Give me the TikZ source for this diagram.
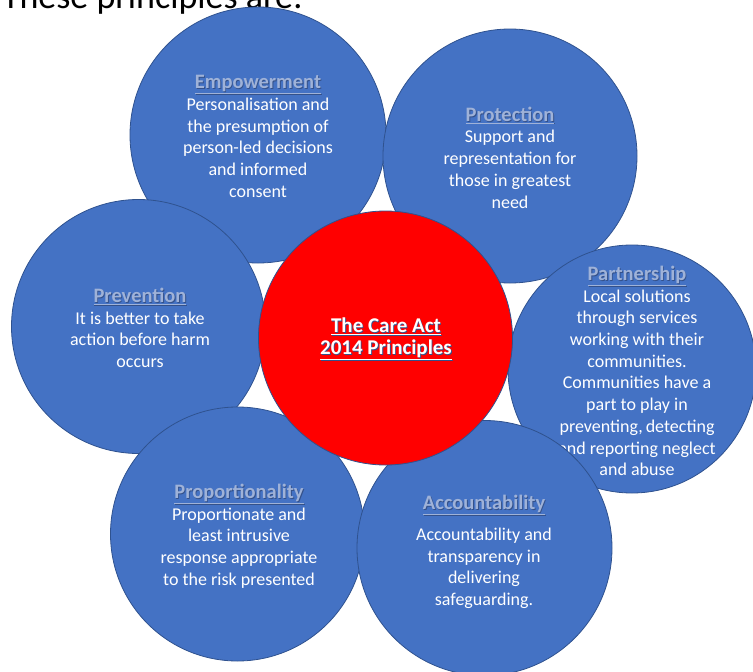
\documentclass[tikz,border=0pt]{standalone}
\usepackage{fontspec}
\setmainfont{Carlito}
\definecolor{circblue}{HTML}{4472C4}
\definecolor{circedge}{HTML}{2F528F}
\definecolor{hdrc}{HTML}{9FB2D8}
\definecolor{shadowc}{HTML}{34518A}
\definecolor{redc}{HTML}{FF0000}
\newcommand\shd[2]{\leavevmode\rlap{\kern0.9pt\raisebox{-0.9pt}{\color{shadowc}\underline{#2}}}{\color{#1}\underline{#2}}}
\newcommand\hdr[1]{{\bfseries\fontsize{20.5}{21.7}\selectfont\shd{hdrc}{#1}}}
\begin{document}
\begin{tikzpicture}[x=1pt,y=-1pt,
  disc/.style={circle, draw=circedge, line width=0.8pt, fill=circblue, inner sep=0pt},
  body/.style={align=center, text=white, font=\fontsize{18}{21.7}\selectfont, inner sep=0pt},
]
\useasboundingbox (0,0) rectangle (753,672);
\node[anchor=base east, inner sep=0pt, font=\fontsize{36}{38}\selectfont, text=black] (intro) at (303,8) {These principles are:};

\node[disc, minimum size=256pt] (empc) at (258,135) {};
\node[body] (empt) at (258,136.5) {\hdr{Empowerment}\\Personalisation and\\the presumption of\\person-led decisions\\and informed\\consent};

\node[disc, minimum size=254pt] (proc) at (510,156) {};
\node[body] (prot) at (510,157.5) {\hdr{Protection}\\Support and\\representation for\\those in greatest\\need};

\node[disc, minimum size=248pt] (parc) at (632,369) {};
\node[body] (part) at (637,371) {\hdr{Partnership}\\Local solutions\\through services\\working with their\\communities.\\Communities have a\\part to play in\\preventing,\,detecting\\and reporting neglect\\and abuse};

\node[disc, minimum size=254pt] (prevc) at (138.5,326.5) {};
\node[body] (prevt) at (140,328) {\hdr{Prevention}\\It is better to take\\action before harm\\occurs};

\node[disc, minimum size=254pt] (propc) at (237.5,534) {};
\node[body] (propt) at (239,536) {\hdr{Proportionality}\\Proportionate and\\least intrusive\\response appropriate\\to the risk presented};

\node[disc, minimum size=255pt] (accc) at (484.5,548) {};
\node[body] (acct) at (484,552) {\hdr{Accountability}\\[9pt]Accountability and\\transparency in\\delivering\\safeguarding.};

\node[disc, fill=redc, minimum size=254pt] (carec) at (385.5,338) {};
\node[body, font=\bfseries\fontsize{21}{21.7}\selectfont] (caret) at (386,339) {\shd{white}{The Care Act}\\\shd{white}{2014 Principles}};
\end{tikzpicture}
\end{document}
